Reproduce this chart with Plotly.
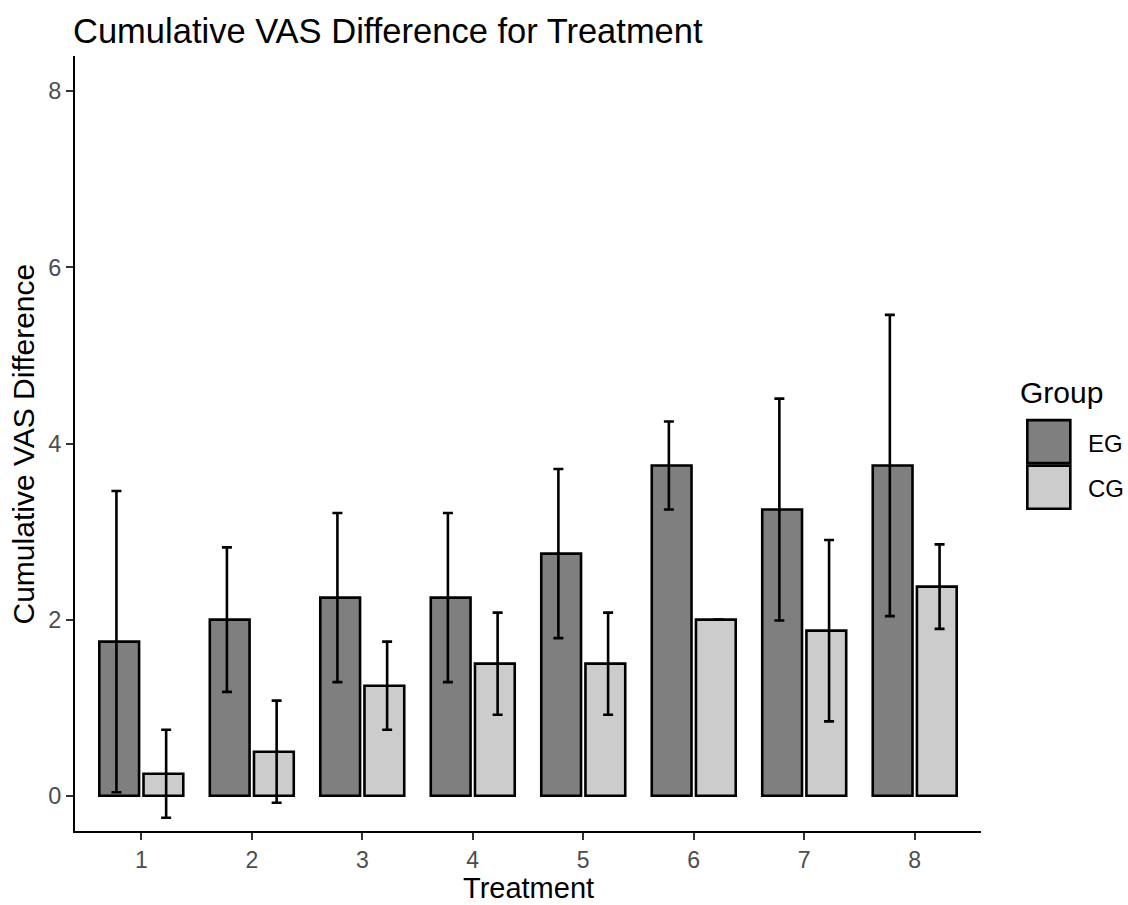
import numpy as np
import plotly.graph_objects as go

# Treatment sessions and group summaries (mean and half-width of the error bar)
treatments = [1, 2, 3, 4, 5, 6, 7, 8]
tick_labels = ["1", "2", "3", "4", "5", "6", "7", "8"]
eg_mean = [1.75, 2.00, 2.25, 2.25, 2.75, 3.75, 3.25, 3.75]
eg_err = [1.71, 0.82, 0.96, 0.96, 0.96, 0.50, 1.26, 1.71]
cg_mean = [0.25, 0.50, 1.25, 1.50, 1.50, 2.00, 1.875, 2.375]
cg_err = [0.50, 0.58, 0.50, 0.58, 0.58, 0.00, 1.03, 0.48]

groups = ["EG", "CG"]
fills = {"EG": "#7f7f7f", "CG": "#cccccc"}

W, H = 1128, 905
L, R, T, B = 75, 980.7, 56, 830.7  # panel edges in px
FONT = "Liberation Sans, Arial, Helvetica, sans-serif"

def px_x(p):
    return (p - L) / (R - L)

def px_y(p):
    return (B - p) / (B - T)

x = np.array(treatments, dtype=float)
bar_w = 0.36

fig = go.Figure()
fig.add_trace(go.Bar(x=x, y=eg_mean, width=bar_w, offset=-0.38,
                     marker=dict(color=fills["EG"], line=dict(color="black", width=2.6)),
                     name="EG", showlegend=False, hoverinfo="skip"))
fig.add_trace(go.Bar(x=x, y=cg_mean, width=bar_w, offset=0.02,
                     marker=dict(color=fills["CG"], line=dict(color="black", width=2.6)),
                     name="CG", showlegend=False, hoverinfo="skip"))

# error bars, dodged slightly wider than the bars
for means, errs, dx in [(eg_mean, eg_err, -0.225), (cg_mean, cg_err, 0.225)]:
    fig.add_trace(go.Scatter(
        x=x + dx, y=means, mode="markers",
        marker=dict(size=1, color="rgba(0,0,0,0)"),
        error_y=dict(type="data", array=errs, visible=True,
                     color="black", thickness=2.6, width=5),
        showlegend=False, hoverinfo="skip"))

fig.update_layout(
    width=W, height=H,
    margin=dict(l=L, r=W - R, t=T, b=H - B, pad=0),
    paper_bgcolor="white", plot_bgcolor="white",
    barmode="overlay",
    font=dict(family=FONT, color="black"),
    title=dict(text="Cumulative VAS Difference for Treatment",
               font=dict(size=34.5, color="black", family=FONT),
               xref="container", x=73 / W, xanchor="left",
               yref="container", y=1 - 31 / H, yanchor="middle"),
    xaxis=dict(range=[0.4, 8.6], tickmode="array", tickvals=treatments,
               ticktext=tick_labels, showgrid=False, zeroline=False,
               showline=True, linecolor="black", linewidth=2,
               ticks="outside", ticklen=7, tickwidth=2, tickcolor="#333333",
               tickfont=dict(size=23, color="#4d4d4d", family=FONT)),
    yaxis=dict(range=[-0.4, 8.4], tickmode="array", tickvals=[0, 2, 4, 6, 8],
               ticktext=["0", "2", "4", "6", "8"], showgrid=False, zeroline=False,
               showline=True, linecolor="black", linewidth=2,
               ticks="outside", ticklen=7, tickwidth=2, tickcolor="#333333",
               tickfont=dict(size=23.5, color="#4d4d4d", family=FONT)),
)

annotations = [
    dict(text="Treatment", xref="paper", yref="paper", x=0.5, y=px_y(888),
         xanchor="center", yanchor="middle", showarrow=False,
         font=dict(size=29, color="black", family=FONT)),
    dict(text="Cumulative VAS Difference", xref="paper", yref="paper",
         x=px_x(24), y=0.5, textangle=-90, xanchor="center", yanchor="middle",
         showarrow=False, font=dict(size=30, color="black", family=FONT)),
    dict(text="Group", xref="paper", yref="paper", x=px_x(1018), y=px_y(392),
         xanchor="left", yanchor="middle", showarrow=False,
         font=dict(size=30, color="black", family=FONT)),
]

# legend keys drawn as boxes
shapes = []
key_tops = {"EG": 420, "CG": 465.5}
for g in groups:
    top = key_tops[g]
    shapes.append(dict(type="rect", xref="paper", yref="paper",
                       x0=px_x(1027), x1=px_x(1070), y0=px_y(top + 43), y1=px_y(top),
                       fillcolor=fills[g], line=dict(color="black", width=2.6)))
    annotations.append(dict(text=g, xref="paper", yref="paper",
                            x=px_x(1086), y=px_y(top + 23),
                            xanchor="left", yanchor="middle", showarrow=False,
                            font=dict(size=24, color="black", family=FONT)))

fig.update_layout(annotations=annotations, shapes=shapes)

fig.write_html("out.html")
